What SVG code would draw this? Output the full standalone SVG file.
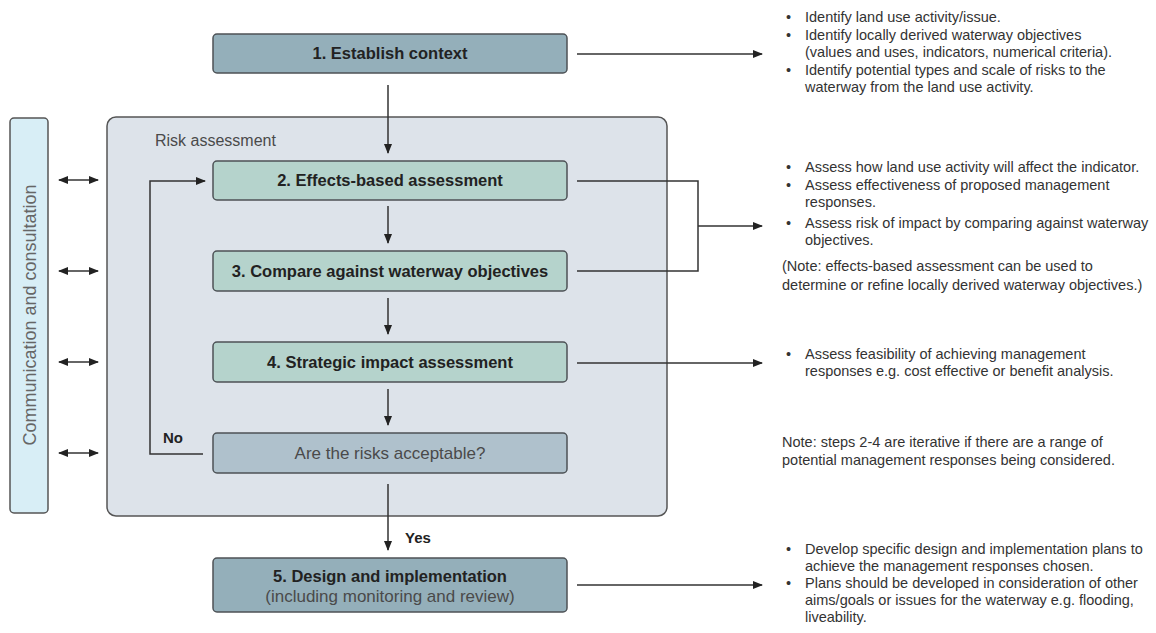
<svg xmlns="http://www.w3.org/2000/svg" width="1156" height="633" viewBox="0 0 1156 633">
<defs>
<marker id="ah" markerWidth="10" markerHeight="8" refX="9" refY="4" orient="auto" markerUnits="userSpaceOnUse">
<path d="M0,0 L10,4 L0,8 Z" fill="#222"/>
</marker>
<marker id="ahs" markerWidth="10" markerHeight="8" refX="1" refY="4" orient="auto" markerUnits="userSpaceOnUse">
<path d="M10,0 L0,4 L10,8 Z" fill="#222"/>
</marker>
<style>
.box{stroke:#4d5256;stroke-width:1.5}
.dark{fill:#94afba}
.green{fill:#b5d3cc}
.q{fill:#afc1cc}
.t{font-family:"Liberation Sans",Arial,sans-serif;font-size:16.5px;font-weight:bold;fill:#222;text-anchor:middle}
.tr{font-family:"Liberation Sans",Arial,sans-serif;font-size:17px;fill:#4a4a4a;text-anchor:middle}
.side{font-family:"Liberation Sans",Arial,sans-serif;font-size:14.5px;fill:#333}
.lbl{font-family:"Liberation Sans",Arial,sans-serif;font-size:15px;font-weight:bold;fill:#222}
.ln{stroke:#333;stroke-width:1.5;fill:none}
</style>
</defs>
<rect width="1156" height="633" fill="#ffffff"/>

<g id="comm">
<rect x="10" y="118" width="38" height="395" rx="4" fill="#d8eef6" stroke="#555" stroke-width="1.5"/>
<text transform="translate(36,315) rotate(-90)" text-anchor="middle" font-family="Liberation Sans, Arial, sans-serif" font-size="18" fill="#666">Communication and consultation</text>
</g>

<g id="risk">
<rect x="107" y="117" width="560" height="399" rx="9" fill="#dde3ea" stroke="#555" stroke-width="1.5"/>
<text x="155" y="146" font-family="Liberation Sans, Arial, sans-serif" font-size="16" fill="#4a4a4a">Risk assessment</text>
</g>

<g id="n1">
<rect class="box dark" x="213" y="34" width="354" height="39" rx="4"/>
<text class="t" x="390" y="59">1. Establish context</text>
</g>
<g id="n2">
<rect class="box green" x="213" y="161" width="354" height="39" rx="4"/>
<text class="t" x="390" y="186">2. Effects-based assessment</text>
</g>
<g id="n3">
<rect class="box green" x="213" y="251" width="354" height="40" rx="4"/>
<text class="t" x="390" y="277">3. Compare against waterway objectives</text>
</g>
<g id="n4">
<rect class="box green" x="213" y="342" width="354" height="40" rx="4"/>
<text class="t" x="390" y="368">4. Strategic impact assessment</text>
</g>
<g id="n5">
<rect class="box q" x="213" y="433" width="354" height="40" rx="4"/>
<text class="tr" x="390" y="459">Are the risks acceptable?</text>
</g>
<g id="n6">
<rect class="box dark" x="213" y="558" width="354" height="54" rx="4"/>
<text class="t" x="390" y="582">5. Design and implementation</text>
<text class="tr" x="390" y="602">(including monitoring and review)</text>
</g>

<g id="connectors">
<line class="ln" x1="388" y1="85" x2="388" y2="153" marker-end="url(#ah)"/>
<line class="ln" x1="388" y1="206" x2="388" y2="243" marker-end="url(#ah)"/>
<line class="ln" x1="388" y1="298" x2="388" y2="334" marker-end="url(#ah)"/>
<line class="ln" x1="388" y1="389" x2="388" y2="425" marker-end="url(#ah)"/>
<line class="ln" x1="388" y1="484" x2="388" y2="550" marker-end="url(#ah)"/>
<polyline class="ln" points="203,454 150,454 150,181 205,181" marker-end="url(#ah)"/>

<line class="ln" x1="59" y1="180" x2="98" y2="180" marker-start="url(#ahs)" marker-end="url(#ah)"/>
<line class="ln" x1="59" y1="271" x2="98" y2="271" marker-start="url(#ahs)" marker-end="url(#ah)"/>
<line class="ln" x1="59" y1="362" x2="98" y2="362" marker-start="url(#ahs)" marker-end="url(#ah)"/>
<line class="ln" x1="59" y1="453" x2="98" y2="453" marker-start="url(#ahs)" marker-end="url(#ah)"/>

<line class="ln" x1="577" y1="54" x2="762" y2="54" marker-end="url(#ah)"/>
<polyline class="ln" points="577,181 698,181 698,271 577,271"/>
<line class="ln" x1="698" y1="226" x2="762" y2="226" marker-end="url(#ah)"/>
<line class="ln" x1="577" y1="363" x2="762" y2="363" marker-end="url(#ah)"/>
<line class="ln" x1="577" y1="585" x2="762" y2="585" marker-end="url(#ah)"/>

<text class="lbl" x="163" y="443">No</text>
<text class="lbl" x="405" y="543">Yes</text>
</g>

<g id="notes1" class="side">
<text x="786" y="22">•</text><text x="805" y="22">Identify land use activity/issue.</text>
<text x="786" y="40">•</text><text x="805" y="40">Identify locally derived waterway objectives</text>
<text x="805" y="57">(values and uses, indicators, numerical criteria).</text>
<text x="786" y="75">•</text><text x="805" y="75">Identify potential types and scale of risks to the</text>
<text x="805" y="92">waterway from the land use activity.</text>
</g>
<g id="notes2" class="side">
<text x="786" y="172">•</text><text x="805" y="172">Assess how land use activity will affect the indicator.</text>
<text x="786" y="190">•</text><text x="805" y="190">Assess effectiveness of proposed management</text>
<text x="805" y="207">responses.</text>
<text x="786" y="228">•</text><text x="805" y="228">Assess risk of impact by comparing against waterway</text>
<text x="805" y="245">objectives.</text>
<text x="782" y="271">(Note: effects-based assessment can be used to</text>
<text x="782" y="290">determine or refine locally derived waterway objectives.)</text>
</g>
<g id="notes3" class="side">
<text x="786" y="359">•</text><text x="805" y="359">Assess feasibility of achieving management</text>
<text x="805" y="376">responses e.g. cost effective or benefit analysis.</text>
<text x="782" y="447">Note: steps 2-4 are iterative if there are a range of</text>
<text x="782" y="465">potential management responses being considered.</text>
</g>
<g id="notes5" class="side">
<text x="786" y="554">•</text><text x="805" y="554">Develop specific design and implementation plans to</text>
<text x="805" y="571">achieve the management responses chosen.</text>
<text x="786" y="588">•</text><text x="805" y="588">Plans should be developed in consideration of other</text>
<text x="805" y="605">aims/goals or issues for the waterway e.g. flooding,</text>
<text x="805" y="622">liveability.</text>
</g>
</svg>
